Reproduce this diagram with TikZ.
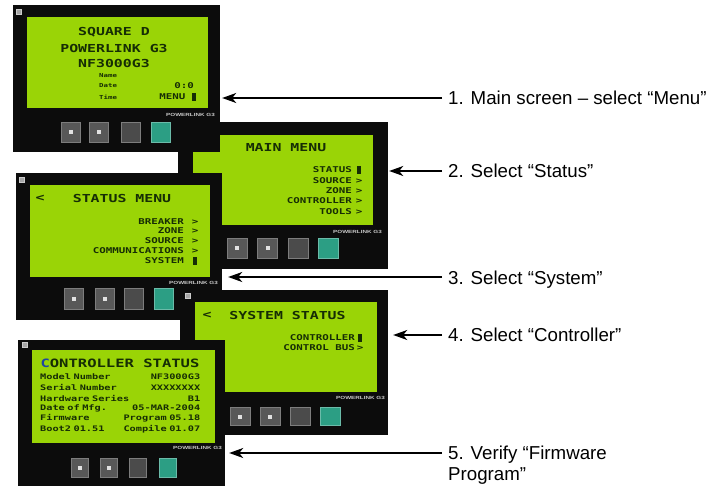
\documentclass[tikz,border=0pt]{standalone}
\usepackage{fontspec}
\setmainfont{Liberation Sans}
\newfontfamily\lcdfont[FakeStretch=1.35]{DejaVu Sans Mono}
\newfontfamily\logofont[FakeStretch=1.4]{Liberation Sans}
\usetikzlibrary{fit,arrows.meta}
\definecolor{panelblack}{RGB}{12,12,12}
\definecolor{lcdgreen}{RGB}{154,212,6}
\definecolor{lcdtext}{RGB}{22,45,5}
\definecolor{btngray}{RGB}{88,88,88}
\definecolor{btnedge}{RGB}{125,125,125}
\definecolor{btnlight}{RGB}{225,225,225}
\definecolor{btnteal}{RGB}{44,158,132}
\definecolor{logowhite}{RGB}{200,200,200}
\definecolor{cursorblue}{RGB}{30,70,160}
\newcommand\lcdcur{\rule[-0.8pt]{4pt}{7.5pt}}
\newcommand\mkbuttons[8]{%
  \node[btnA, minimum width=#7, minimum height=#8] (#1a) at (#3,#2) {};
  \node[btnA, minimum width=#7, minimum height=#8] (#1b) at (#4,#2) {};
  \node[btnC, minimum width=#7, minimum height=#8] (#1c) at (#5,#2) {};
  \node[btnT, minimum width=#7, minimum height=#8] (#1d) at (#6,#2) {};}
\begin{document}
\begin{tikzpicture}[x=1pt,y=-1pt,
  panel/.style={fill=panelblack, draw=none, inner sep=0pt, rectangle},
  screen/.style={fill=lcdgreen, draw=none, inner sep=0pt, rectangle},
  corner/.style={fill=gray!70, draw=gray!40, line width=0.5pt, inner sep=0pt, minimum size=5pt},
  btnA/.style={fill=btngray, draw=btnedge, line width=0.6pt, inner sep=0pt,
    path picture={\fill[btnlight] ([shift={(-2pt,-2pt)}]path picture bounding box.center) rectangle ([shift={(2pt,2pt)}]path picture bounding box.center);}},
  btnC/.style={fill=btngray!85!black, draw=btnedge, line width=0.6pt, inner sep=0pt},
  btnT/.style={fill=btnteal, draw=btnteal!70!white, line width=0.6pt, inner sep=0pt},
  lcd/.style={text=lcdtext, font=\lcdfont\bfseries\fontsize{8}{8}\selectfont, inner sep=0pt},
  lcdbig/.style={text=lcdtext, font=\lcdfont\bfseries\fontsize{11}{11}\selectfont, inner sep=0pt},
  lcdsmall/.style={text=lcdtext, font=\lcdfont\bfseries\fontsize{5.5}{5.5}\selectfont, inner sep=0pt},
  lcdline/.style={text=lcdtext, font=\lcdfont\bfseries\fontsize{7.6}{7.6}\selectfont, inner sep=0pt, anchor=west, text width=160pt, align=left},
  logo/.style={text=logowhite, font=\logofont\bfseries\fontsize{4.5}{4.5}\selectfont, inner sep=0pt, anchor=east},
  lbl/.style={font=\fontsize{18.7}{20.5}\selectfont, inner sep=0pt, align=left},
  arr/.style={-{Stealth[length=14pt,width=10pt,inset=4pt]}, line width=1.3pt}]
\fill[white] (0,0) rectangle (711,486);
\useasboundingbox (0,0) rectangle (711,486);

% ---------- panel 2 (Main menu) ----------
\node[panel, fit={(178,122)(388,269)}] (p2) {};
\node[screen, fit={(193,135)(373,225)}] (s2) {};
\node[lcdbig] (t2) at (286,148) {MAIN MENU};
\node[lcd, anchor=east] (i2a) at (352,170) {STATUS};
\node[lcd, anchor=east] (i2b) at (352,181) {SOURCE};
\node[lcd, anchor=east] (i2c) at (352,191) {ZONE};
\node[lcd, anchor=east] (i2d) at (352,201) {CONTROLLER};
\node[lcd, anchor=east] (i2e) at (352,212) {TOOLS};
\node[lcd] (m2a) at (359,170) {\lcdcur};
\node[lcd] (m2b) at (359,181) {>};
\node[lcd] (m2c) at (359,191) {>};
\node[lcd] (m2d) at (359,201) {>};
\node[lcd] (m2e) at (359,212) {>};
\node[logo] (g2) at (382,232) {POWERLINK G3};
\mkbuttons{b2}{248}{237}{267.5}{298}{328}{20pt}{20pt}

% ---------- panel 1 (Main screen) ----------
\node[panel, fit={(13,5)(220,152)}] (p1) {};
\node[screen, fit={(27,17)(208,108)}] (s1) {};
\node[corner] (c1) at (19,12) {};
\node[lcdbig] (t1a) at (114,32) {SQUARE D};
\node[lcdbig] (t1b) at (114,48) {POWERLINK G3};
\node[lcdbig] (t1c) at (114,63) {NF3000G3};
\node[lcdsmall, anchor=west] (n1a) at (99,76) {Name};
\node[lcdsmall, anchor=west] (n1b) at (99,86) {Date};
\node[lcdsmall, anchor=west] (n1c) at (99,97) {Time};
\node[lcd, anchor=east] (v1b) at (194,86) {0:0};
\node[lcd, anchor=east] (v1c) at (196,97) {MENU \lcdcur};
\node[logo] (g1) at (215,115) {POWERLINK G3};
\mkbuttons{b1}{132}{70.5}{99}{131}{161}{19pt}{20pt}

% ---------- panel 3 (Status menu) ----------
\node[panel, fit={(16,173)(222,320)}] (p3) {};
\node[screen, fit={(30,185)(210,277)}] (s3) {};
\node[corner] (c3) at (22,180) {};
\node[lcdbig] (k3) at (40,198) {<};
\node[lcdbig] (t3) at (122,198) {STATUS MENU};
\node[lcd, anchor=east] (i3a) at (184,222) {BREAKER};
\node[lcd, anchor=east] (i3b) at (184,231) {ZONE};
\node[lcd, anchor=east] (i3c) at (184,241) {SOURCE};
\node[lcd, anchor=east] (i3d) at (184,251) {COMMUNICATIONS};
\node[lcd, anchor=east] (i3e) at (184,261) {SYSTEM};
\node[lcd] (m3a) at (195,222) {>};
\node[lcd] (m3b) at (195,231) {>};
\node[lcd] (m3c) at (195,241) {>};
\node[lcd] (m3d) at (195,251) {>};
\node[lcd] (m3e) at (195,261) {\lcdcur};
\node[logo] (g3) at (218,283) {POWERLINK G3};
\mkbuttons{b3}{299}{74}{105}{134}{164}{19pt}{21pt}

% ---------- panel 4 (System status) ----------
\node[panel, fit={(180,290)(388,435)}] (p4) {};
\node[screen, fit={(195,302)(377,392)}] (s4) {};
\node[corner] (c4) at (188,296) {};
\node[lcdbig] (k4) at (207,315) {<};
\node[lcdbig] (t4) at (287.5,315) {SYSTEM STATUS};
\node[lcd, anchor=east] (i4a) at (355,338) {CONTROLLER};
\node[lcd, anchor=east] (i4b) at (355,348) {CONTROL BUS};
\node[lcd] (m4a) at (360,338) {\lcdcur};
\node[lcd] (m4b) at (360,348) {>};
\node[logo] (g4) at (385,398) {POWERLINK G3};
\mkbuttons{b4}{416.5}{240}{270}{300}{330}{20pt}{18pt}

% ---------- panel 5 (Controller status) ----------
\node[panel, fit={(18,340)(225,486)}] (p5) {};
\node[screen, fit={(32,350)(215,443)}] (s5) {};
\node[corner] (c5) at (25,345) {};
\node[lcdbig, font=\lcdfont\bfseries\fontsize{11.5}{11.5}\selectfont] (t5) at (120,363) {{\color{cursorblue}C}ONTROLLER STATUS};
\node[lcdline] (r5a) at (40,377) {Model Number\hfill NF3000G3};
\node[lcdline] (r5b) at (40,387) {Serial Number\hfill XXXXXXXX};
\node[lcdline] (r5c) at (40,398) {Hardware Series\hfill B1};
\node[lcdline] (r5d) at (40,408) {Date of Mfg.\hfill 05-MAR-2004};
\node[lcdline] (r5e) at (40,418) {Firmware\hfill Program 05.18};
\node[lcdline] (r5f) at (40,429) {Boot2 01.51\hfill Compile 01.07};
\node[logo] (g5) at (222,448) {POWERLINK G3};
\mkbuttons{b5}{467.5}{80}{108.5}{137.5}{167.5}{17pt}{19pt}

% ---------- labels ----------
\node[lbl, anchor=base west] (l1) at (448,104.7) {1. Main screen – select “Menu”};
\node[lbl, anchor=base west] (l2) at (448,178) {2. Select “Status”};
\node[lbl, anchor=base west] (l3) at (448,284.7) {3. Select “System”};
\node[lbl, anchor=base west] (l4) at (448,341.7) {4. Select “Controller”};
\node[lbl, anchor=west] (l5) at (448,465) {5. Verify “Firmware\\Program”};

% ---------- arrows ----------
\coordinate (a1) at (442,98);
\coordinate (a2) at (442,171);
\coordinate (a3) at (442,277);
\coordinate (a4) at (442,335);
\coordinate (a5) at (442,453);
\draw[arr] (a1) -- ([xshift=2pt]a1 -| p1.east);
\draw[arr] (a2) -- ([xshift=1pt]a2 -| p2.east);
\draw[arr] (a3) -- ([xshift=6pt]a3 -| p3.east);
\draw[arr] (a4) -- ([xshift=5pt]a4 -| p4.east);
\draw[arr] (a5) -- ([xshift=4pt]a5 -| p5.east);
\end{tikzpicture}
\end{document}
